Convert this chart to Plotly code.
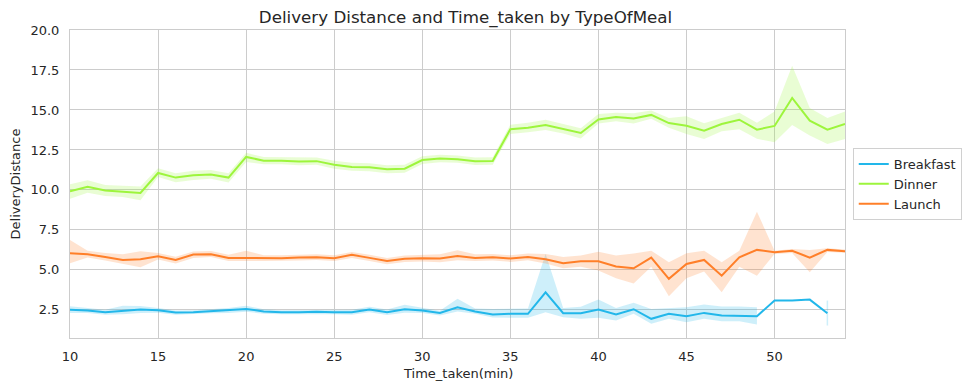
import plotly.graph_objects as go

time_taken = list(range(10, 55))

breakfast_mean = [2.5, 2.46, 2.35, 2.44, 2.52, 2.48, 2.33, 2.35, 2.42, 2.46,
                  2.56, 2.4, 2.35, 2.35, 2.38, 2.35, 2.35, 2.52, 2.35, 2.54,
                  2.46, 2.31, 2.66, 2.4, 2.21, 2.25, 2.25, 3.6, 2.29, 2.29,
                  2.52, 2.21, 2.54, 1.94, 2.25, 2.1, 2.31, 2.14, 2.14, 2.1,
                  3.08, 3.08, 3.14, 2.29, None]
breakfast_low = [2.3, 2.3, 2.2, 2.22, 2.3, 2.32, 2.2, 2.22, 2.28, 2.3,
                 2.38, 2.26, 2.22, 2.22, 2.24, 2.22, 2.2, 2.35, 2.18, 2.32,
                 2.3, 2.15, 2.4, 2.25, 2.02, 2.0, 2.0, 2.35, 2.04, 1.94,
                 2.0, 1.83, 2.25, 1.63, 1.94, 1.73, 1.94, 1.79, 1.79, 1.58,
                 None, None, None, 1.52, None]
breakfast_high = [2.72, 2.62, 2.5, 2.75, 2.74, 2.62, 2.46, 2.48, 2.56, 2.62,
                  2.75, 2.54, 2.48, 2.48, 2.52, 2.48, 2.5, 2.7, 2.52, 2.82,
                  2.62, 2.45, 3.19, 2.58, 2.55, 2.58, 2.58, 6.0, 2.62, 2.7,
                  3.14, 2.62, 2.94, 2.56, 2.62, 2.66, 2.83, 2.71, 2.71, 2.66,
                  None, None, None, 3.08, None]

dinner_mean = [9.91, 10.2, 9.96, 9.9, 9.81, 11.06, 10.77, 10.91, 10.97, 10.77,
               12.06, 11.83, 11.83, 11.77, 11.8, 11.58, 11.44, 11.42, 11.29, 11.33,
               11.87, 11.96, 11.92, 11.79, 11.81, 13.79, 13.89, 14.06, 13.83, 13.56,
               14.41, 14.56, 14.46, 14.69, 14.18, 14.01, 13.71, 14.12, 14.39, 13.77,
               14.0, 15.75, 14.33, 13.77, 14.12]
dinner_low = [9.45, 9.82, 9.62, 9.55, 9.35, 10.8, 10.48, 10.62, 10.7, 10.47,
              11.75, 11.6, 11.6, 11.55, 11.58, 11.33, 11.2, 11.17, 11.04, 11.08,
              11.62, 11.73, 11.7, 11.56, 11.58, 13.5, 13.6, 13.75, 13.53, 13.22,
              14.15, 14.3, 14.15, 14.45, 13.88, 13.5, 13.19, 13.67, 13.79, 13.2,
              12.98, 14.06, 13.4, 12.87, 13.19]
dinner_high = [10.35, 10.6, 10.3, 10.25, 10.22, 11.35, 11.05, 11.2, 11.25, 11.05,
               12.32, 12.06, 12.05, 12.0, 12.03, 11.83, 11.7, 11.67, 11.54, 11.58,
               12.1, 12.2, 12.15, 12.02, 12.04, 14.08, 14.2, 14.38, 14.13, 13.85,
               14.75, 14.82, 14.8, 14.97, 14.5, 14.6, 14.17, 14.5, 14.83, 14.2,
               14.9, 17.77, 15.12, 14.5, 14.9]

launch_mean = [6.04, 5.98, 5.81, 5.62, 5.66, 5.85, 5.62, 5.96, 5.98, 5.75,
               5.75, 5.73, 5.73, 5.77, 5.79, 5.73, 5.94, 5.75, 5.56, 5.69,
               5.73, 5.71, 5.87, 5.75, 5.79, 5.71, 5.81, 5.66, 5.41, 5.54,
               5.54, 5.21, 5.1, 5.77, 4.44, 5.37, 5.62, 4.64, 5.79, 6.25,
               6.1, 6.19, 5.77, 6.25, 6.17]
launch_low = [5.41, 5.78, 5.58, 5.35, 5.16, 5.65, 5.4, 5.75, 5.8, 5.55,
              5.55, 5.55, 5.55, 5.59, 5.61, 5.55, 5.75, 5.55, 5.35, 5.5,
              5.52, 5.48, 5.6, 5.55, 5.58, 5.5, 5.6, 5.4, 5.1, 5.2,
              4.96, 4.48, 4.15, 5.2, 3.35, 4.48, 4.9, 3.6, 5.2, 4.64,
              6.0, 6.05, 4.85, 6.12, 6.07]
launch_high = [6.87, 6.2, 6.05, 5.98, 6.17, 6.05, 5.82, 6.15, 6.18, 5.95,
               6.2, 5.91, 5.91, 5.95, 5.97, 5.91, 6.12, 5.95, 5.75, 5.9,
               5.93, 5.98, 6.22, 5.98, 6.0, 5.92, 6.02, 6.0, 5.8, 5.9,
               6.14, 5.9, 6.03, 6.2, 5.48, 6.04, 6.2, 5.48, 6.2, 8.64,
               6.2, 6.3, 6.25, 6.35, 6.27]

series = [
    ("Breakfast", breakfast_mean, breakfast_low, breakfast_high, "#22b7ea", "rgba(34,183,234,0.22)"),
    ("Dinner", dinner_mean, dinner_low, dinner_high, "#9df53c", "rgba(157,245,60,0.22)"),
    ("Launch", launch_mean, launch_low, launch_high, "#ff7f29", "rgba(255,127,41,0.22)"),
]

fig = go.Figure()

for name, mean, low, high, color, band in series:
    runs, cur = [], []
    for i, (lo, hi) in enumerate(zip(low, high)):
        if lo is None or hi is None:
            if cur:
                runs.append(cur)
            cur = []
        else:
            cur.append(i)
    if cur:
        runs.append(cur)
    for run in runs:
        xs = [time_taken[i] for i in run]
        if len(run) == 1:
            fig.add_trace(go.Scatter(x=[xs[0], xs[0]], y=[low[run[0]], high[run[0]]],
                                     mode="lines", line=dict(color=band, width=1.5),
                                     showlegend=False, hoverinfo="skip"))
        else:
            fig.add_trace(go.Scatter(
                x=xs + xs[::-1],
                y=[high[i] for i in run] + [low[i] for i in run][::-1],
                fill="toself", fillcolor=band, mode="lines",
                line=dict(width=0, color=band), showlegend=False, hoverinfo="skip"))

for name, mean, low, high, color, band in series:
    fig.add_trace(go.Scatter(x=time_taken, y=mean, mode="lines", name=name,
                             line=dict(color=color, width=2), connectgaps=False))

fig.update_layout(
    width=978, height=391,
    margin=dict(l=62, r=141, t=22, b=61, autoexpand=False),
    paper_bgcolor="white", plot_bgcolor="white",
    font=dict(family="DejaVu Sans", size=13, color="#262626"),
    title=dict(text="Delivery Distance and Time_taken by TypeOfMeal",
               x=0.4678, xanchor="center", y=0.977, yanchor="middle",
               font=dict(size=16.7, color="#262626")),
    legend=dict(x=1.01, xanchor="left", y=0.5, yanchor="middle",
                bordercolor="#d0d0d0", borderwidth=1, bgcolor="white",
                font=dict(size=13), tracegroupgap=0),
    showlegend=True,
    annotations=[dict(text="Time_taken(min)", x=0.5, xref="paper", y=0, yref="paper",
                      yanchor="middle", xanchor="center", yshift=-35, showarrow=False,
                      font=dict(size=13, color="#262626"))],
)
fig.update_xaxes(range=[10, 54], tickvals=[10, 15, 20, 25, 30, 35, 40, 45, 50],
                 showgrid=True, gridcolor="#cccccc", gridwidth=1,
                 showline=True, linecolor="#cccccc", mirror=True, zeroline=False,
                 ticks="", ticklabelstandoff=6, automargin=False,
                 tickfont=dict(size=13))
fig.update_yaxes(range=[0.74, 20], tickvals=[2.5, 5, 7.5, 10, 12.5, 15, 17.5, 20],
                 tickformat=".1f",
                 showgrid=True, gridcolor="#cccccc", gridwidth=1,
                 showline=True, linecolor="#cccccc", mirror=True, zeroline=False,
                 ticks="", ticklabelstandoff=7, automargin=False,
                 tickfont=dict(size=13),
                 title=dict(text="DeliveryDistance", standoff=6, font=dict(size=13)))

fig.write_html("out.html")
